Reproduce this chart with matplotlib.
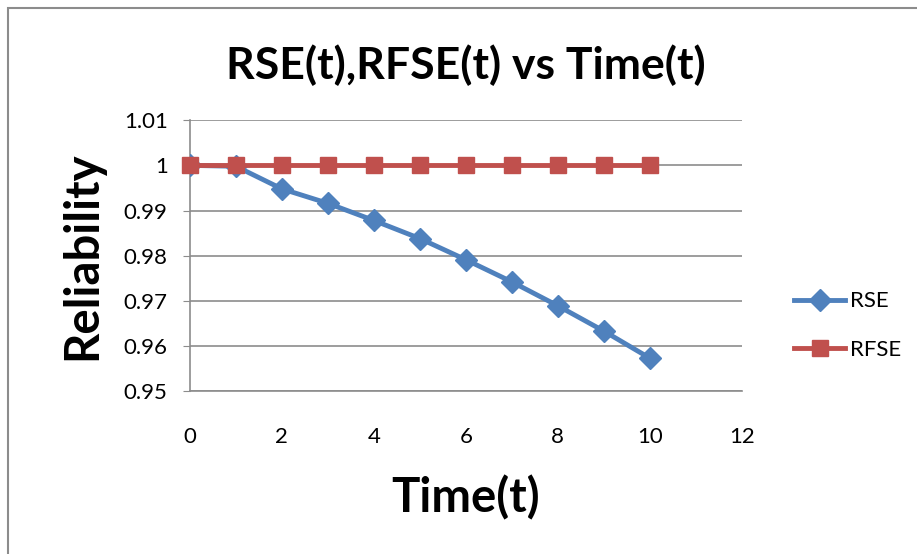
import matplotlib.pyplot as plt
from matplotlib.patches import Rectangle

plt.rcParams['font.family'] = ['Lato', 'DejaVu Sans']

# data
t = [0, 1, 2, 3, 4, 5, 6, 7, 8, 9, 10]
rse = [1.0, 0.9998, 0.9948, 0.9916, 0.9878, 0.9838, 0.9791, 0.9742, 0.9689, 0.9633, 0.9573]
rfse = [1, 1, 1, 1, 1, 1, 1, 1, 1, 1, 1]
yticks = [0.95, 0.96, 0.97, 0.98, 0.99, 1.0, 1.01]
ytick_labels = ['0.95', '0.96', '0.97', '0.98', '0.99', '1', '1.01']

fig = plt.figure(figsize=(9.17, 5.54), dpi=100)
ax = fig.add_axes([0.207, 0.294, 0.602, 0.489])

# chart border (only top and left edges visible in the picture)
fig.patches.append(Rectangle((8/917, -0.2), 1.2, 1.2 - 8/554, transform=fig.transFigure,
                             fill=False, edgecolor='#8c8c8c', linewidth=1.5))

ax.plot(t, rse, color='#4F81BD', lw=3.5, marker='D', ms=11, label='RSE', zorder=3)
ax.plot(t, rfse, color='#C0504D', lw=3.5, marker='s', ms=12, label='RFSE', zorder=4, clip_on=False)

ax.set_xlim(0, 12)
ax.set_ylim(0.95, 1.01)
ax.set_xticks(range(0, 13, 2))
ax.set_yticks(yticks)
ax.set_yticklabels(ytick_labels)
ax.grid(axis='y', color='#8c8c8c', lw=1.2)
ax.set_axisbelow(True)
for s in ['top', 'right']:
    ax.spines[s].set_visible(False)
for s in ['left', 'bottom']:
    ax.spines[s].set_color('#8c8c8c')
    ax.spines[s].set_linewidth(1.2)
ax.tick_params(axis='y', length=5, color='#8c8c8c', labelsize=16, pad=11)
ax.tick_params(axis='x', length=0, labelsize=16, pad=26)

ax.set_title('RSE(t),RFSE(t) vs Time(t)', fontsize=32, fontweight='bold', pad=30)
ax.set_xlabel('Time(t)', fontsize=34, fontweight='bold', labelpad=20)
ax.set_ylabel('Reliability', fontsize=34, fontweight='bold', labelpad=14)

ax.legend(loc='center left', bbox_to_anchor=(0.866, 0.412), bbox_transform=fig.transFigure,
          frameon=False, fontsize=16, handlelength=2.3, handletextpad=0.2, labelspacing=1.3,
          borderaxespad=0, borderpad=0)

fig.savefig('out.png', dpi=100)
